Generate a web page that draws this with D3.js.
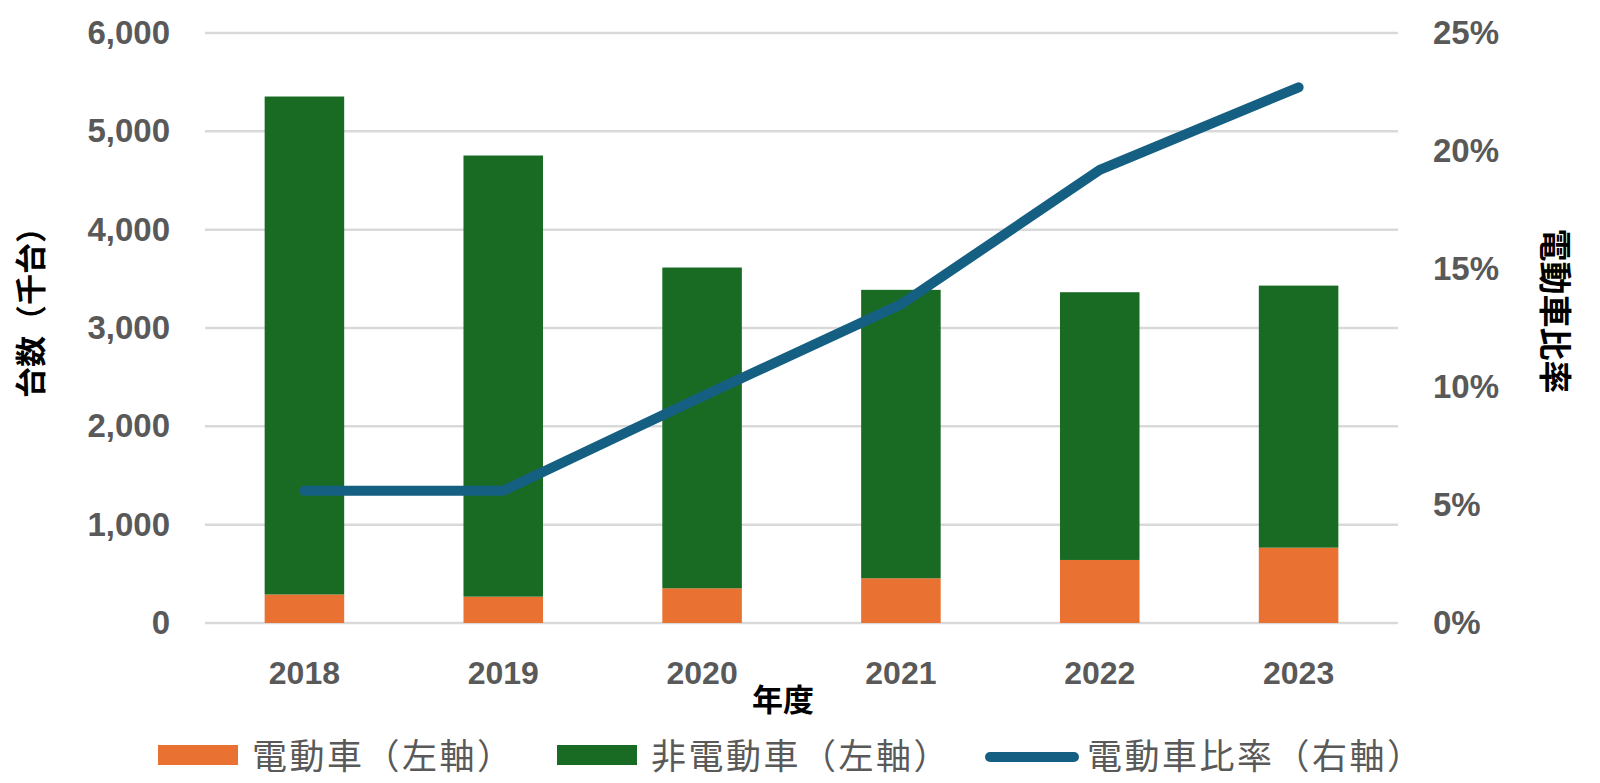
<!DOCTYPE html>
<html>
<head>
<meta charset="utf-8">
<script src="https://cdn.jsdelivr.net/npm/d3@7"></script>
<style>
  body { margin: 0; background: #fff; }
  svg { display: block; }
</style>
</head>
<body>
<div id="chart"></div>
<script>
// data
var years = ["2018", "2019", "2020", "2021", "2022", "2023"];
var evUnits = [290, 268, 353, 455, 641, 766];          // 電動車 (千台)
var nonEvUnits = [5064, 4486, 3262, 2933, 2723, 2665]; // 非電動車 (千台)
var evRatio = [5.6, 5.6, 9.6, 13.5, 19.2, 22.7];       // 電動車比率 (%)
var leftTicks = [0, 1000, 2000, 3000, 4000, 5000, 6000];
var rightTicks = [0, 5, 10, 15, 20, 25];

var W = 1600, H = 783;
var numFont = "'Liberation Sans', Arial, sans-serif";
var cjkFont = "'Noto Sans CJK JP', 'Noto Sans', sans-serif";
var colors = { ev: "#e97132", nonEv: "#196b24", ratio: "#156082" };

var svg = d3.select("#chart").append("svg")
    .attr("width", W)
    .attr("height", H);

var x = d3.scaleBand()
    .domain(years)
    .range([205, 1398])
    .paddingInner(0.6)
    .paddingOuter(0.3);

var y = d3.scaleLinear().domain([0, 6000]).range([623, 33]);
var yR = d3.scaleLinear().domain([0, 25]).range([623, 33]);

// gridlines
svg.append("g")
    .selectAll("line")
    .data(leftTicks)
    .enter().append("line")
    .attr("x1", 205)
    .attr("x2", 1398)
    .attr("y1", function(d) { return y(d); })
    .attr("y2", function(d) { return y(d); })
    .attr("stroke", "#d9d9d9")
    .attr("stroke-width", 2.5);

// left axis labels
var yAxis = d3.axisLeft(y).tickValues(leftTicks).tickFormat(d3.format(",")).tickSize(0).tickPadding(0);
var gL = svg.append("g").attr("transform", "translate(170,0)").call(yAxis);
gL.select(".domain").remove();
gL.selectAll("text")
    .style("font-family", numFont)
    .style("font-weight", "bold")
    .style("font-size", "33px")
    .attr("fill", "#595959");

// right axis labels
var yAxisR = d3.axisRight(yR).tickValues(rightTicks).tickFormat(function(d) { return d + "%"; }).tickSize(0).tickPadding(0);
var gR = svg.append("g").attr("transform", "translate(1433,0)").call(yAxisR);
gR.select(".domain").remove();
gR.selectAll("text")
    .style("font-family", numFont)
    .style("font-weight", "bold")
    .style("font-size", "33px")
    .attr("fill", "#595959");

// stacked bars
var rows = years.map(function(yr, i) {
    return { year: yr, ev: evUnits[i], nonEv: nonEvUnits[i] };
});
var stack = d3.stack().keys(["ev", "nonEv"]);
var layers = stack(rows);

svg.append("g")
    .selectAll("g")
    .data(layers)
    .enter().append("g")
    .attr("fill", function(d) { return colors[d.key]; })
    .selectAll("rect")
    .data(function(d) { return d; })
    .enter().append("rect")
    .attr("x", function(d) { return x(d.data.year); })
    .attr("width", x.bandwidth())
    .attr("y", function(d) { return y(d[1]); })
    .attr("height", function(d) { return y(d[0]) - y(d[1]); });

// ratio line
var line = d3.line()
    .x(function(d, i) { return x(years[i]) + x.bandwidth() / 2; })
    .y(function(d) { return yR(d); });

svg.append("path")
    .datum(evRatio)
    .attr("d", line)
    .attr("fill", "none")
    .attr("stroke", colors.ratio)
    .attr("stroke-width", 10)
    .attr("stroke-linecap", "round")
    .attr("stroke-linejoin", "round");

// x axis labels
var xAxis = d3.axisBottom(x).tickSize(0).tickPadding(0);
var gX = svg.append("g").attr("transform", "translate(0,684)").call(xAxis);
gX.select(".domain").remove();
gX.selectAll("text")
    .attr("dy", 0)
    .style("font-family", numFont)
    .style("font-weight", "bold")
    .style("font-size", "32px")
    .attr("fill", "#595959");

// axis titles
svg.append("text")
    .attr("x", 783)
    .attr("y", 711)
    .attr("text-anchor", "middle")
    .style("font-family", cjkFont)
    .style("font-weight", "bold")
    .style("font-size", "31px")
    .attr("fill", "#000")
    .text("年度");

svg.append("text")
    .attr("transform", "translate(28,305) rotate(-90)")
    .attr("text-anchor", "middle")
    .attr("dominant-baseline", "central")
    .style("font-family", cjkFont)
    .style("font-weight", "bold")
    .style("font-size", "31px")
    .attr("fill", "#000")
    .text("台数（千台）");

svg.append("text")
    .attr("transform", "translate(1557,311) rotate(90)")
    .attr("text-anchor", "middle")
    .attr("dominant-baseline", "central")
    .style("font-family", cjkFont)
    .style("font-weight", "bold")
    .style("font-size", "33px")
    .attr("fill", "#000")
    .text("電動車比率");

// legend
var legendItems = [
    { label: "電動車（左軸）", color: colors.ev, type: "rect", x: 158 },
    { label: "非電動車（左軸）", color: colors.nonEv, type: "rect", x: 557 },
    { label: "電動車比率（右軸）", color: colors.ratio, type: "line", x: 988 }
];

var lg = svg.append("g").selectAll("g")
    .data(legendItems)
    .enter().append("g")
    .attr("transform", function(d) { return "translate(" + d.x + ",755)"; });

lg.filter(function(d) { return d.type === "rect"; })
    .append("rect")
    .attr("x", 0)
    .attr("y", -10)
    .attr("width", 80)
    .attr("height", 20)
    .attr("fill", function(d) { return d.color; });

lg.filter(function(d) { return d.type === "line"; })
    .append("line")
    .attr("x1", 2)
    .attr("x2", 86)
    .attr("y1", 2)
    .attr("y2", 2)
    .attr("stroke", function(d) { return d.color; })
    .attr("stroke-width", 10)
    .attr("stroke-linecap", "round");

lg.append("text")
    .attr("x", function(d) { return d.type === "line" ? 99 : 94; })
    .attr("y", -2)
    .attr("dominant-baseline", "central")
    .style("font-family", cjkFont)
    .style("font-size", "35px")
    .style("letter-spacing", "2.5px")
    .attr("fill", "#595959")
    .text(function(d) { return d.label; });
</script>
</body>
</html>
